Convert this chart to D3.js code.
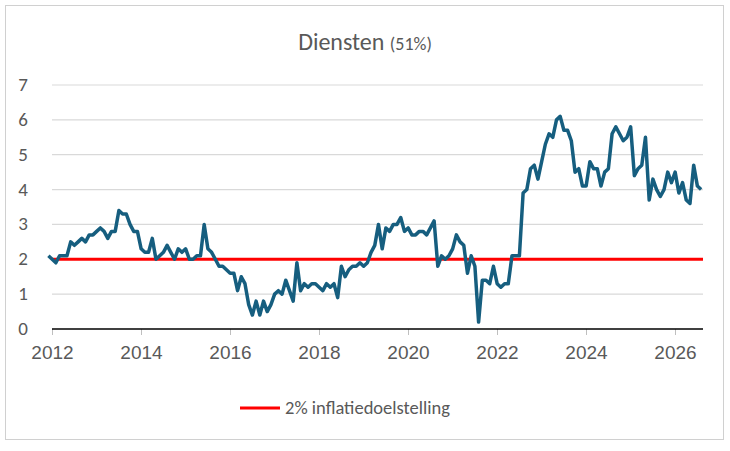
<!DOCTYPE html><html><head><meta charset="utf-8"><script src="https://cdn.jsdelivr.net/npm/d3@7"></script>
<style>body{margin:0;background:#fff;font-family:Calibri,"Liberation Sans","Open Sans",sans-serif}</style></head><body><svg id="c" width="730" height="451"></svg><script>
const startYear = 2012;
const values = [
2.1,2.0,1.9,2.1,2.1,2.1,2.5,2.4,2.5,2.6,2.5,2.7,
2.7,2.8,2.9,2.8,2.6,2.8,2.8,3.4,3.3,3.3,3.0,2.8,
2.8,2.3,2.2,2.2,2.6,2.0,2.1,2.2,2.4,2.2,2.0,2.3,
2.2,2.3,2.0,2.0,2.1,2.1,3.0,2.3,2.2,2.0,1.8,1.8,
1.7,1.6,1.6,1.1,1.5,1.3,0.7,0.4,0.8,0.4,0.8,0.5,
0.7,1.0,1.1,1.0,1.4,1.1,0.8,1.9,1.1,1.3,1.2,1.3,
1.3,1.2,1.1,1.3,1.2,1.3,0.9,1.8,1.5,1.7,1.8,1.8,
1.9,1.8,1.9,2.2,2.4,3.0,2.3,2.9,2.8,3.0,3.0,3.2,
2.8,2.9,2.7,2.7,2.8,2.8,2.7,2.9,3.1,1.8,2.1,2.0,
2.1,2.3,2.7,2.5,2.4,1.6,2.1,1.8,0.2,1.4,1.4,1.3,
1.8,1.3,1.2,1.3,1.3,2.1,2.1,2.1,3.9,4.0,4.6,4.7,
4.3,4.8,5.3,5.6,5.5,6.0,6.1,5.7,5.7,5.4,4.5,4.6,
4.1,4.1,4.8,4.6,4.6,4.1,4.5,4.6,5.6,5.8,5.6,5.4,
5.5,5.8,4.4,4.6,4.7,5.5,3.7,4.3,4.0,3.8,4.0,4.5,
4.2,4.5,3.9,4.2,3.7,3.6,4.7,4.1,4.0];
const target = 2;
const xTicks = [2012,2014,2016,2018,2020,2022,2024,2026];
const yTicks = [0,1,2,3,4,5,6,7];
const svg = d3.select("#c");
svg.append("rect").attr("x",5.5).attr("y",5.5).attr("width",718).attr("height",434).attr("fill","#fff").attr("stroke","#d0d0d0");
const first = 2011.92, last = first + (values.length-1)/12;
const x = d3.scaleLinear().domain([2012,2026]).range([52,675]);
const y = d3.scaleLinear().domain([0,7]).range([329,85]);
svg.append("g").selectAll("line").data(yTicks.slice(1)).join("line")
 .attr("x1",52).attr("x2",703).attr("y1",d=>y(d)).attr("y2",d=>y(d)).attr("stroke","#d9d9d9").attr("stroke-width",1.2);
svg.append("g").selectAll("text").data(yTicks).join("text")
 .attr("x",28).attr("y",d=>y(d)+6).attr("text-anchor","end").attr("font-size",19).attr("fill","#595959").text(d=>d);
const ax = svg.append("g").attr("transform","translate(0,329)").call(d3.axisBottom(x).tickValues(xTicks).tickFormat(d3.format("d")).tickSize(6));
ax.select(".domain").remove();
ax.append("line").attr("x1",52).attr("x2",703).attr("stroke","#000").attr("stroke-width",1.5);
ax.selectAll(".tick line").attr("stroke","#bfbfbf");
ax.selectAll("text").attr("font-size",19).attr("fill","#595959").attr("dy","1.1em").attr("font-family","inherit");
svg.append("line").attr("x1",52).attr("x2",703).attr("y1",y(target)).attr("y2",y(target)).attr("stroke","#ff0000").attr("stroke-width",3);
svg.append("path").datum(values).attr("fill","none").attr("stroke","#165e7f").attr("stroke-width",3.5).attr("stroke-linejoin","round")
 .attr("d",d3.line().x((d,i)=>Math.min(703,x(first+i/12))).y(d=>y(d)));
const t = svg.append("text").attr("x",365).attr("y",50).attr("text-anchor","middle").attr("fill","#595959");
t.append("tspan").attr("font-size",24).text("Diensten ");
t.append("tspan").attr("font-size",18).text("(51%)");
svg.append("line").attr("x1",240).attr("x2",280).attr("y1",408).attr("y2",408).attr("stroke","#ff0000").attr("stroke-width",3);
svg.append("text").attr("x",285).attr("y",414).attr("font-size",18.5).attr("fill","#595959").text("2% inflatiedoelstelling");
</script></body></html>
